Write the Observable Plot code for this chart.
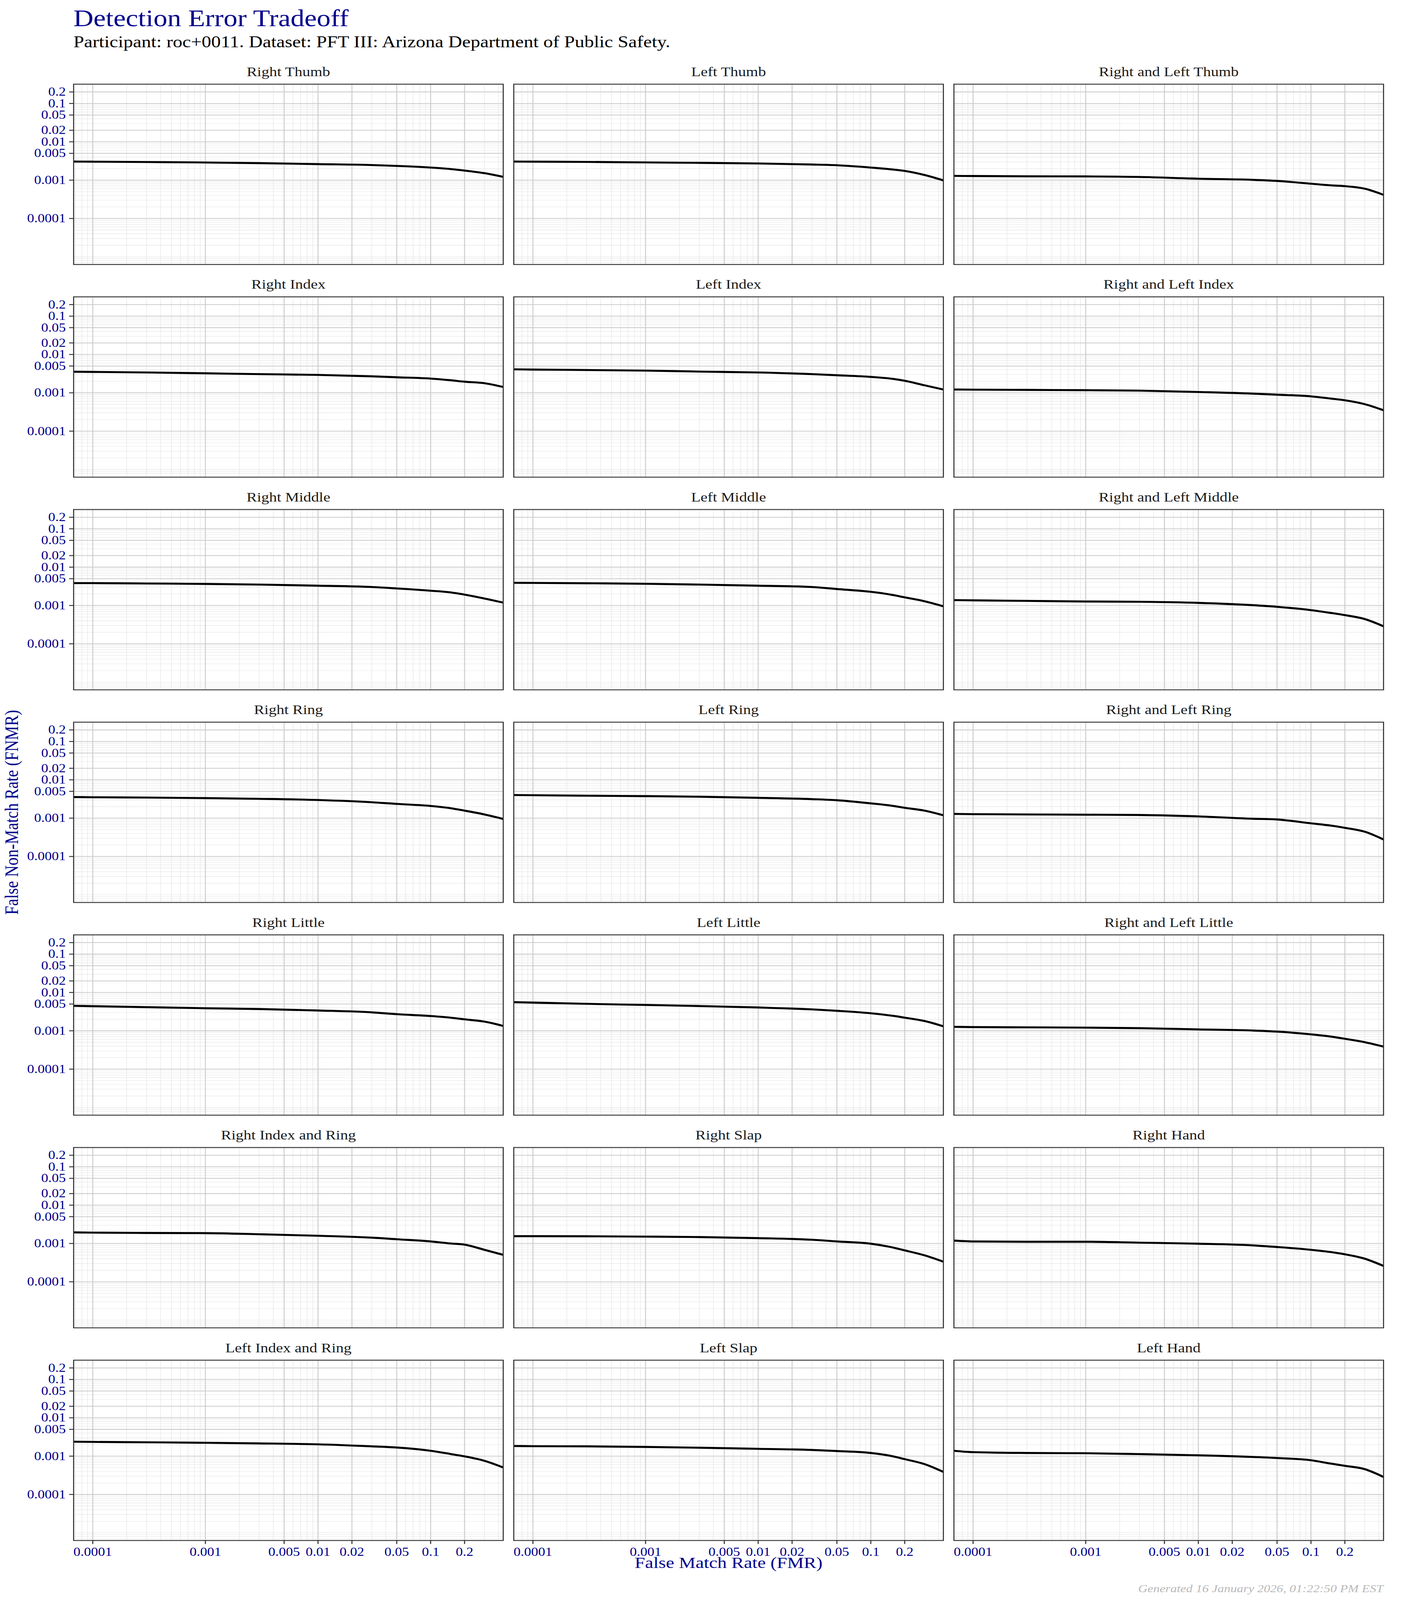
<!DOCTYPE html>
<html>
<head>
<meta charset="utf-8">
<script src="https://cdn.jsdelivr.net/npm/d3@7"></script>
<script src="https://cdn.jsdelivr.net/npm/@observablehq/plot@0.6"></script>
<style>
html, body { margin: 0; padding: 0; background: #fff; overflow: hidden; }
#page { position: absolute; left: 0; top: 0; width: 3600px; height: 4800px; font-family: "Liberation Serif", serif; background: #fff; overflow: hidden; transform-origin: 0 0; }
#title { position: absolute; left: 188px; top: 19px; font-size: 71px; line-height: 71px; color: #00008B; white-space: nowrap; }
#subtitle { position: absolute; left: 188px; top: 100.9px; font-size: 49px; line-height: 49px; color: #000; white-space: nowrap; }
#chart { position: absolute; left: 0; top: 180px; width: 3600px; height: 4540px; }
#chart svg { display: block; }
#caption { position: absolute; right: 58px; top: 4749.3px; font-size: 33px; line-height: 33px; font-style: italic; color: #b8b8b8; white-space: nowrap; }
</style>
</head>
<body>
<div id="page">
  <div id="title">Detection Error Tradeoff</div>
  <div id="subtitle">Participant: roc+0011. Dataset: PFT III: Arizona Department of Public Safety.</div>
  <div id="chart"></div>
  <div id="caption">Generated 16 January 2026, 01:22:50 PM EST</div>
</div>
<script>
// Sample FMR positions (x) at which the curves were read
const fmr = [6.76e-5, 1e-4, 3e-4, 1e-3, 3e-3, 0.01, 0.03, 0.05, 0.1, 0.15, 0.2, 0.3, 0.44];

const panelNames = [
  "Right Thumb", "Left Thumb", "Right and Left Thumb",
  "Right Index", "Left Index", "Right and Left Index",
  "Right Middle", "Left Middle", "Right and Left Middle",
  "Right Ring", "Left Ring", "Right and Left Ring",
  "Right Little", "Left Little", "Right and Left Little",
  "Right Index and Ring", "Right Slap", "Right Hand",
  "Left Index and Ring", "Left Slap", "Left Hand"
];

// FNMR values per panel
const rightThumb      = [0.00305, 0.00303, 0.00297, 0.00289, 0.00278, 0.00262, 0.00248, 0.00235, 0.00213, 0.00195, 0.00178, 0.00152, 0.00122];
const leftThumb       = [0.00305, 0.00303, 0.00299, 0.00290, 0.00283, 0.00272, 0.00256, 0.00245, 0.00213, 0.00192, 0.00174, 0.00136, 0.000987];
const rightLeftThumb  = [0.00129, 0.00128, 0.00126, 0.00125, 0.00121, 0.00109, 0.00102, 0.000954, 0.000808, 0.000731, 0.000697, 0.000598, 0.000414];
const rightIndex      = [0.00355, 0.00351, 0.00339, 0.00323, 0.00307, 0.00293, 0.00269, 0.00254, 0.00235, 0.00213, 0.00195, 0.00178, 0.00142];
const leftIndex       = [0.00409, 0.00404, 0.00393, 0.00380, 0.00358, 0.00339, 0.00307, 0.00287, 0.00260, 0.00235, 0.00206, 0.00157, 0.00122];
const rightLeftIndex  = [0.00122, 0.00121, 0.00119, 0.00117, 0.00114, 0.00105, 0.000954, 0.000893, 0.000808, 0.000707, 0.000639, 0.000506, 0.000351];
const rightMiddle     = [0.00383, 0.00383, 0.00375, 0.00365, 0.00351, 0.00328, 0.00303, 0.00278, 0.00243, 0.00220, 0.00192, 0.00152, 0.00119];
const leftMiddle      = [0.00390, 0.00388, 0.00380, 0.00368, 0.00351, 0.00328, 0.00303, 0.00269, 0.00227, 0.00192, 0.00163, 0.00129, 0.000954];
const rightLeftMiddle = [0.00138, 0.00136, 0.00132, 0.00127, 0.00125, 0.00117, 0.00102, 0.000923, 0.000756, 0.000639, 0.000560, 0.000443, 0.000287];
const rightRing       = [0.00355, 0.00351, 0.00344, 0.00333, 0.00319, 0.00297, 0.00260, 0.00235, 0.00208, 0.00182, 0.00157, 0.00125, 0.000954];
const leftRing        = [0.00401, 0.00396, 0.00385, 0.00375, 0.00362, 0.00339, 0.00313, 0.00293, 0.00243, 0.00213, 0.00186, 0.00157, 0.00119];
const rightLeftRing   = [0.00129, 0.00127, 0.00125, 0.00123, 0.00121, 0.00111, 0.000967, 0.000923, 0.000731, 0.000639, 0.000560, 0.000443, 0.000278];
const rightLittle     = [0.00448, 0.00439, 0.00414, 0.00388, 0.00370, 0.00339, 0.00303, 0.00272, 0.00243, 0.00220, 0.00199, 0.00174, 0.00134];
const leftLittle      = [0.00560, 0.00545, 0.00506, 0.00473, 0.00443, 0.00406, 0.00362, 0.00333, 0.00287, 0.00251, 0.00220, 0.00180, 0.00131];
const rightLeftLittle = [0.00127, 0.00125, 0.00123, 0.00121, 0.00117, 0.00109, 0.00102, 0.000954, 0.000808, 0.000707, 0.000619, 0.000506, 0.000388];
const rightIndexRing  = [0.00195, 0.00192, 0.00188, 0.00186, 0.00174, 0.00159, 0.00142, 0.00129, 0.00113, 0.00100, 0.000935, 0.000684, 0.000506];
const rightSlap       = [0.00155, 0.00155, 0.00154, 0.00151, 0.00147, 0.00138, 0.00125, 0.00113, 0.000987, 0.000808, 0.000661, 0.000490, 0.000335];
const rightHand       = [0.00119, 0.00113, 0.00111, 0.00111, 0.00105, 0.000987, 0.000893, 0.000808, 0.000684, 0.000598, 0.000523, 0.000401, 0.000260];
const leftIndexRing   = [0.00238, 0.00235, 0.00230, 0.00223, 0.00215, 0.00203, 0.00180, 0.00168, 0.00138, 0.00114, 0.000987, 0.000756, 0.000506];
const leftSlap        = [0.00184, 0.00182, 0.00180, 0.00174, 0.00166, 0.00155, 0.00145, 0.00136, 0.00121, 0.00102, 0.000835, 0.000619, 0.000388];
const leftHand        = [0.00138, 0.00127, 0.00121, 0.00119, 0.00113, 0.00105, 0.000954, 0.000893, 0.000781, 0.000639, 0.000560, 0.000458, 0.000287];

const seriesList = [
  rightThumb, leftThumb, rightLeftThumb,
  rightIndex, leftIndex, rightLeftIndex,
  rightMiddle, leftMiddle, rightLeftMiddle,
  rightRing, leftRing, rightLeftRing,
  rightLittle, leftLittle, rightLeftLittle,
  rightIndexRing, rightSlap, rightHand,
  leftIndexRing, leftSlap, leftHand
];

// Axis ticks and labels
const xTicks = [0.0001, 0.001, 0.005, 0.01, 0.02, 0.05, 0.1, 0.2];
const xTickLabels = ["0.0001", "0.001", "0.005", "0.01", "0.02", "0.05", "0.1", "0.2"];
const yTicks = [0.2, 0.1, 0.05, 0.02, 0.01, 0.005, 0.001, 0.0001];
const yTickLabels = ["0.2", "0.1", "0.05", "0.02", "0.01", "0.005", "0.001", "0.0001"];

const xDomain = [6.76e-5, 0.441];
const yDomain = [6.3e-6, 0.319];

// minor grid: k * 10^n inside the domains
function minorGrid(domain) {
  const out = [];
  for (let n = -7; n <= 0; n++) for (let k = 1; k <= 9; k++) {
    const v = k * Math.pow(10, n);
    if (v >= domain[0] && v <= domain[1]) out.push(v);
  }
  return out;
}
const xMinor = minorGrid(xDomain);
const yMinor = minorGrid(yDomain);

const rows = [];
seriesList.forEach((s, i) => {
  s.forEach((v, j) => rows.push({name: panelNames[i], col: i % 3, row: Math.floor(i / 3), fmr: fmr[j], fnmr: v}));
});
const panels = panelNames.map((name, i) => ({name, col: i % 3, row: Math.floor(i / 3)}));
const xLabelData = xTicks.map((v, i) => ({v, label: xTickLabels[i]}));
const yLabelData = yTicks.map((v, i) => ({v, label: yTickLabels[i]}));

const blue = "#00008B";
const chart = Plot.plot({
  width: 3600,
  height: 4540,
  marginLeft: 188,
  marginRight: 58,
  marginTop: 72,
  marginBottom: 99,
  style: {fontFamily: "'Liberation Serif', serif", background: "white", overflow: "visible"},
  x: {type: "log", domain: xDomain},
  y: {type: "log", domain: yDomain},
  fx: {domain: [0, 1, 2], paddingInner: 27 / 1127, paddingOuter: 0, round: false, axis: null},
  fy: {domain: [0, 1, 2, 3, 4, 5, 6], paddingInner: 97 / 638, paddingOuter: 0, round: false, axis: null},
  marks: [
    Plot.ruleY(yMinor, {stroke: "#e6e6e6", strokeWidth: 1.3}),
    Plot.ruleX(xMinor, {stroke: "#e6e6e6", strokeWidth: 1.3}),
    Plot.ruleY(yTicks, {stroke: "#cccccc", strokeWidth: 2.4}),
    Plot.ruleX(xTicks, {stroke: "#cccccc", strokeWidth: 2.4}),
    Plot.line(rows, {x: "fmr", y: "fnmr", fx: "col", fy: "row", stroke: "black", strokeWidth: 6, curve: "monotone-x", clip: true}),
    Plot.frame({stroke: "#333333", strokeWidth: 2.7}),
    Plot.text(panels, {fx: "col", fy: "row", text: "name", frameAnchor: "top", dy: -24, lineAnchor: "bottom", fontSize: 40, fill: "#1a1a1a"}),
    // tick marks only
    Plot.axisY(yTicks, {tickSize: 11, stroke: "#333333", strokeWidth: 2.7, fill: "none", label: null}),
    Plot.axisX(xTicks, {tickSize: 11, stroke: "#333333", strokeWidth: 2.7, fill: "none", label: null}),
    // tick labels
    Plot.text(yLabelData, {y: "v", text: "label", frameAnchor: "left", dx: -20, textAnchor: "end", facetAnchor: "left", fontSize: 36, fill: blue}),
    Plot.text(xLabelData, {x: "v", text: "label", frameAnchor: "bottom", dy: 20, lineAnchor: "top", facetAnchor: "bottom", fontSize: 36, fill: blue}),
    // axis titles
    Plot.text([{col: 1, row: 6}], {fx: "col", fy: "row", text: () => "False Match Rate (FMR)", frameAnchor: "bottom", dy: 82, lineAnchor: "bottom", fontSize: 48, fill: blue}),
    Plot.text([{col: 0, row: 3}], {fx: "col", fy: "row", text: () => "False Non-Match Rate (FNMR)", frameAnchor: "left", dx: -143, rotate: -90, lineAnchor: "bottom", textAnchor: "middle", fontSize: 48, fill: blue})
  ]
});
document.getElementById("chart").appendChild(chart);

// Fit the 3600x4800 page into the actual viewport if the browser gives a smaller one
(function fitPage() {
  const page = document.getElementById("page");
  const vw = window.innerWidth || document.documentElement.clientWidth || 3600;
  const vh = window.innerHeight || document.documentElement.clientHeight || 4800;
  const sx = (vw > 1000 && vw < 3600) ? vw / 3600 : 1;
  const sy = (vh > 1000 && vh < 4800) ? vh / 4800 : 1;
  page.style.transform = (sx !== 1 || sy !== 1) ? `scale(${sx}, ${sy})` : "";
})();
</script>
</body>
</html>
